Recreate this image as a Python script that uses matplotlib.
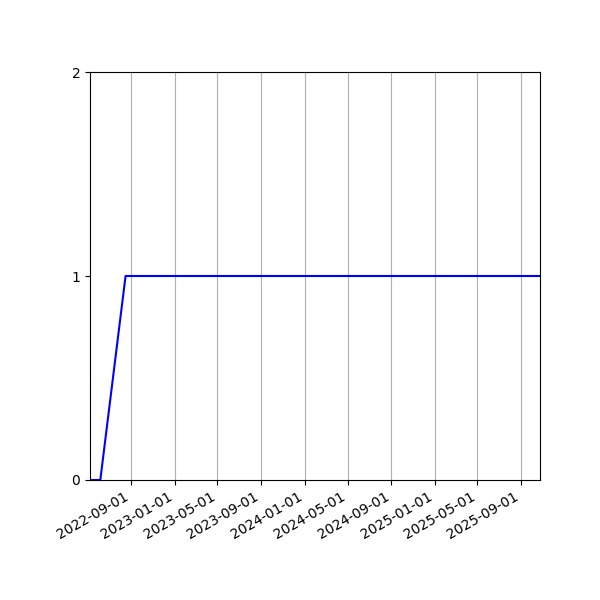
import matplotlib
matplotlib.use("Agg")
import matplotlib.pyplot as plt
import matplotlib.dates as mdates
import pandas as pd

dates = ["2022-05-08", "2022-06-06", "2022-08-16", "2025-10-24"]
values = [0, 0, 1, 1]
tick_dates = ["2022-09-01", "2023-01-01", "2023-05-01", "2023-09-01", "2024-01-01",
              "2024-05-01", "2024-09-01", "2025-01-01", "2025-05-01", "2025-09-01"]
y_ticks = [0, 1, 2]

x = pd.to_datetime(dates)
fig, ax = plt.subplots(figsize=(6, 6), dpi=100)
ax.plot(x, values, color="blue", linewidth=1.5)
ax.set_xlim(x[0], x[-1])
ax.set_ylim(0, 2)
ax.set_yticks(y_ticks)
ax.set_xticks(pd.to_datetime(tick_dates))
ax.xaxis.set_major_formatter(mdates.DateFormatter("%Y-%m-%d"))
ax.grid(axis="x", color="#b0b0b0")
fig.autofmt_xdate()
fig.subplots_adjust(left=0.15, right=0.9, top=0.88, bottom=0.2)
fig.savefig("out.png", dpi=100)
